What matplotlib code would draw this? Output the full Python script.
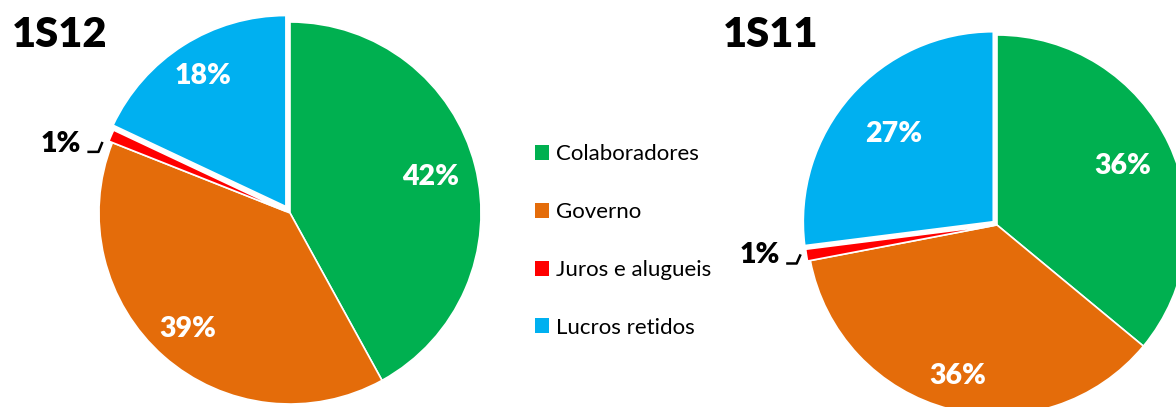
import matplotlib
matplotlib.use('Agg')
import matplotlib.pyplot as plt
from matplotlib.patches import Rectangle
import numpy as np

categories = ['Colaboradores', 'Governo', 'Juros e alugueis', 'Lucros retidos']
colors = ['#00B050', '#E46C0A', '#FF0000', '#00B0F0']
values_1s12 = [42, 39, 1, 18]
values_1s11 = [36, 36, 1, 27]
titles = ['1S12', '1S11']

plt.rcParams['font.family'] = ['Lato', 'DejaVu Sans']

W, H = 1176, 407
fig = plt.figure(figsize=(W / 100, H / 100), dpi=100)
K = 1.4
LABEL_FS = 20.5


def pie_axes(cx, cy, R):
    s = 2 * R * K
    return fig.add_axes([(cx - s / 2) / W, (H - cy - s / 2) / H, s / W, s / H])


def draw(ax, values, explode, label_d, small_idx, leader):
    wedges, _ = ax.pie(values, colors=colors, startangle=90, counterclock=False,
                       explode=explode,
                       wedgeprops=dict(edgecolor='white', linewidth=1.2))
    ax.set_xlim(-K, K)
    ax.set_ylim(-K, K)
    ax.set_aspect('equal')
    ax.axis('off')
    for i, w in enumerate(wedges):
        mid = np.deg2rad((w.theta1 + w.theta2) / 2)
        cx, cy = w.center
        if i == small_idx:
            r_end, dang, dx_k, dy_k, seg = leader
            a = mid + np.deg2rad(dang)
            ex, ey = cx + r_end * np.cos(a), cy + r_end * np.sin(a)
            kx, ky = ex + dx_k, ey + dy_k
            sx, sy = kx - seg, ky
            ax.plot([sx, kx, ex], [sy, ky, ey], color='black', lw=1.8,
                    clip_on=False, solid_capstyle='butt')
            ax.text(sx - 0.035, sy, f'{values[i]}%', ha='right', va='baseline',
                    fontsize=LABEL_FS, fontweight='heavy', color='black')
        else:
            d = label_d[i]
            ax.text(cx + d * np.cos(mid), cy + d * np.sin(mid), f'{values[i]}%',
                    ha='center', va='center', fontsize=LABEL_FS,
                    fontweight='heavy', color='white')
    return wedges


ax1 = pie_axes(290, 213, 191)
w1 = draw(ax1, values_1s12, [0, 0, 0.02, 0.04], [0.76, 0.81, 0, 0.81], 2,
          (1.03, 2.7, -0.021, -0.052, 0.058))
ax2 = pie_axes(997, 225, 190)
w2 = draw(ax2, values_1s11, [0, 0, 0.015, 0.026], [0.73, 0.82, 0, 0.70], 2,
          (1.03, -0.5, -0.021, -0.048, 0.055))

fig.text(12 / W, 1 - 47 / H, titles[0], ha='left', va='baseline',
         fontsize=30, fontweight='heavy', color='black')
fig.text(723 / W, 1 - 47 / H, titles[1], ha='left', va='baseline',
         fontsize=30, fontweight='heavy', color='black')

handles = [Rectangle((0, 0), 1, 1, facecolor=c, edgecolor='none') for c in colors]
fig.legend(handles, categories, loc='center left',
           bbox_to_anchor=(535 / W, 1 - 241 / H), frameon=False,
           fontsize=16, handlelength=0.65, handleheight=0.65,
           handletextpad=0.3, labelspacing=1.7, borderpad=0, borderaxespad=0)

fig.savefig('out.png', dpi=100, facecolor='white')
